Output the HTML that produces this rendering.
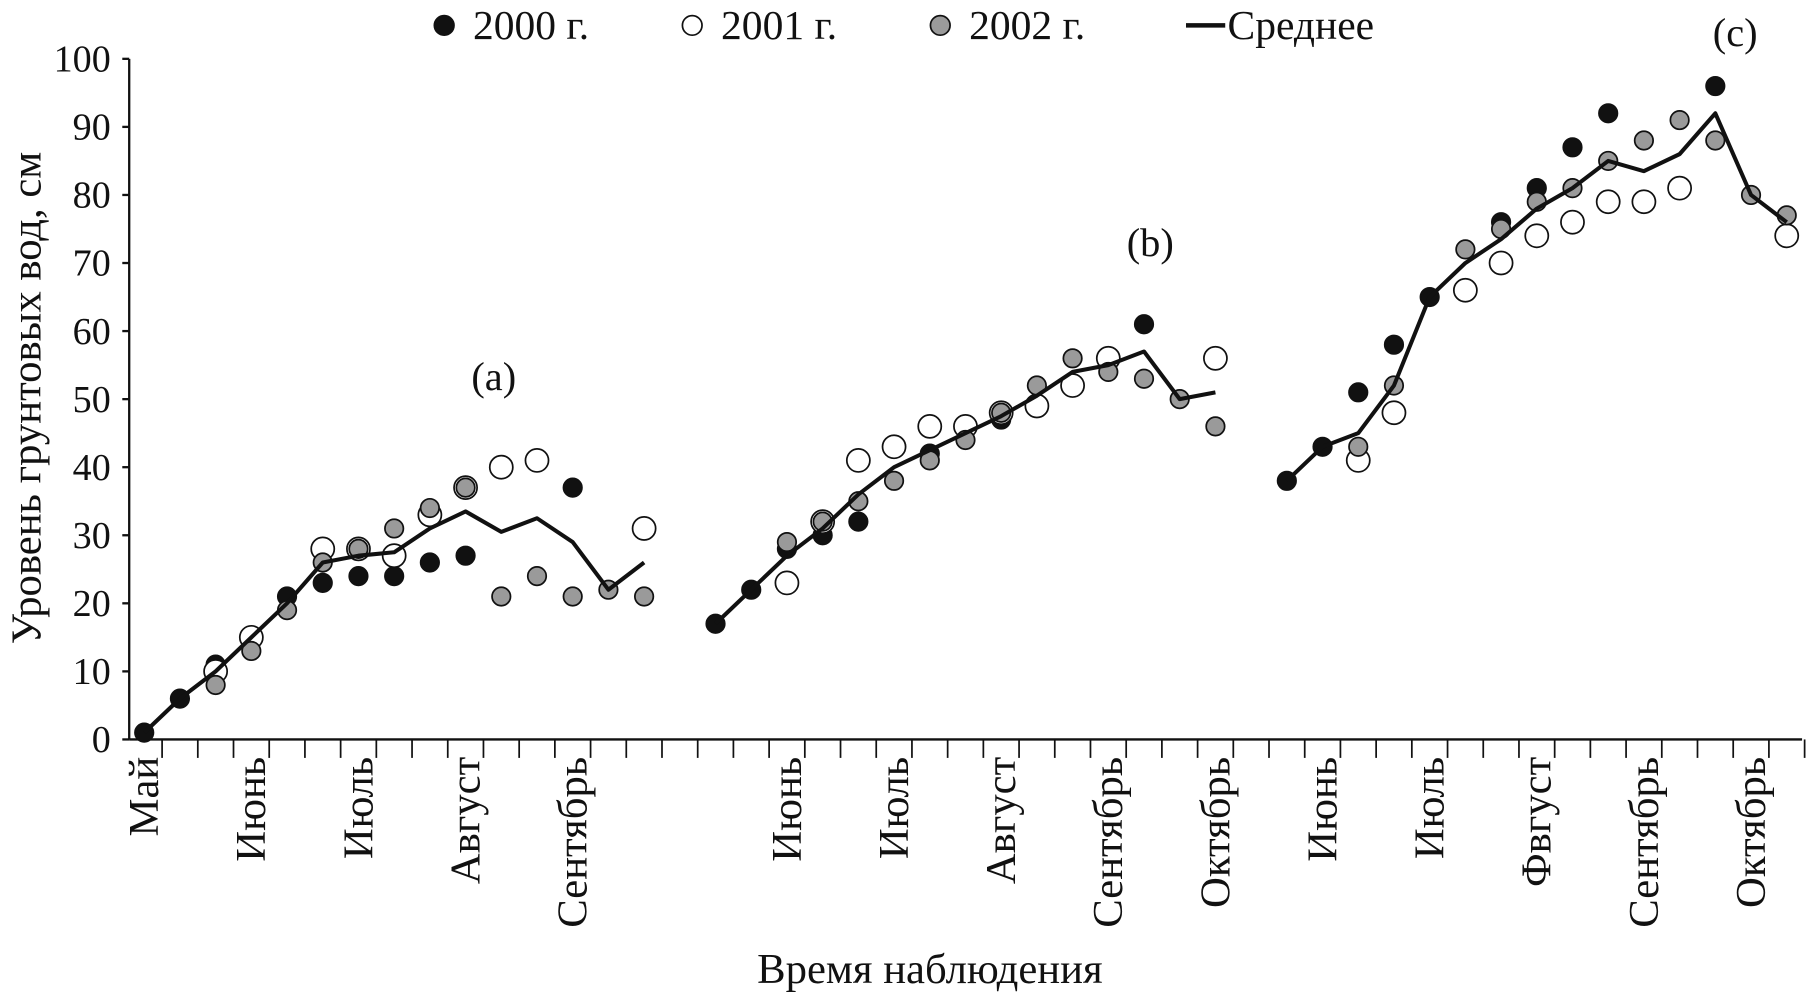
<!DOCTYPE html>
<html><head><meta charset="utf-8"><style>html,body{margin:0;padding:0;background:#fff}svg{display:block}text{font-family:"Liberation Serif",serif;fill:#111}</style></head>
<body>
<svg id="chart" width="1809" height="999" viewBox="0 0 1568 866" preserveAspectRatio="none" xmlns="http://www.w3.org/2000/svg"></svg>
<script>
const yTicks=[0,10,20,30,40,50,60,70,80,90,100];
const monthLabels=["Май","Июнь","Июль","Август","Сентябрь","Июнь","Июль","Август","Сентябрь","Октябрь","Июнь","Июль","Фвгуст","Сентябрь","Октябрь"];
const monthIdx=[0,3,6,9,12,18,21,24,27,30,33,36,39,42,45];
const N=null;
const s2000=[1,6,11,N,21,23,24,24,26,27,N,N,37,N,N, N, 17,22,28,30,32,N,42,N,47,N,N,N,61,N,N, N, 38,43,51,58,65,N,76,81,87,92,N,N,96,N,N];
const s2001=[N,N,10,15,N,28,28,27,33,37,40,41,N,N,31, N, N,N,23,32,41,43,46,46,48,49,52,56,N,N,56, N, N,N,41,48,N,66,70,74,76,79,79,81,N,N,74];
const s2002=[N,N,8,13,19,26,28,31,34,37,21,24,21,22,21, N, N,N,29,32,35,38,41,44,48,52,56,54,53,50,46, N, N,N,43,52,N,72,75,79,81,85,88,91,88,80,77];
const sMean=[1,6,10,15,20,26,27,27.5,31,33.5,30.5,32.5,29,22,26, N, 17,22,27,31,36,40,42.5,45,47.5,50.5,54,55,57,50,51, N, 38,43,45,52,65,70,73.5,78,81,85,83.5,86,92,80,76];
const panels=[{t:"(a)",x:428,y:338},{t:"(b)",x:997,y:222},{t:"(c)",x:1504,y:40}];

const svg=document.getElementById('chart');
const NS="http://www.w3.org/2000/svg";
const X=i=>125+i*30.95, Y=v=>641-v*5.9;
function mk(tag,attrs,parent){const e=document.createElementNS(NS,tag);for(const k in attrs)e.setAttribute(k,attrs[k]);(parent||svg).appendChild(e);return e;}

let e=mk('line',{x1:112,y1:51,x2:112,y2:641,stroke:'#111','stroke-width':2});


e=mk('line',{x1:112,y1:641,x2:1562,y2:641,stroke:'#111','stroke-width':2});


yTicks.forEach(v=>{
  mk('line',{x1:106,y1:Y(v),x2:112,y2:Y(v),stroke:'#111','stroke-width':2});
  const t=mk('text',{x:96,y:Y(v)+11,'text-anchor':'end','font-size':33});t.textContent=v;
  
  
});
for(let k=0;k<47;k++){mk('line',{x1:X(k)+15.5,y1:641,x2:X(k)+15.5,y2:657,stroke:'#111','stroke-width':1.5});}
monthLabels.forEach((m,j)=>{
  const x=X(monthIdx[j])+12;
  const t=mk('text',{x:0,y:0,'text-anchor':'end','font-size':37,transform:`translate(${x},656) rotate(-90)`});t.textContent=m;
  
  
});
e=mk('text',{x:806,y:852,'text-anchor':'middle','font-size':37});e.textContent="Время наблюдения";


e=mk('text',{x:0,y:0,'text-anchor':'middle','font-size':37,transform:'translate(35,345) rotate(-90)'});e.textContent="Уровень грунтовых вод, см";


panels.forEach(p=>{const t=mk('text',{x:p.x,y:p.y,'text-anchor':'middle','font-size':35});t.textContent=p.t;
  
  });

function dots(arr,fill,r,name){arr.forEach((v,i)=>{if(v===null)return;
  const c=mk('circle',{cx:X(i),cy:Y(v),r:r,fill:fill,stroke:'#111','stroke-width':1.5});
  
  });}
dots(s2000,'#111',8,'point-2000');
dots(s2001,'#fff',10,'point-2001');
dots(s2002,'#9a9a9a',8,'point-2002');
let d='',pen=false;
sMean.forEach((v,i)=>{if(v===null){pen=false;return;}d+=(pen?'L':'M')+X(i)+' '+Y(v)+' ';pen=true;});
e=mk('path',{d:d,fill:'none',stroke:'#111','stroke-width':3.5,'stroke-linejoin':'round'});



const lg=[{x:385,f:'#111',t:'2000 г.'},{x:600,f:'#fff',t:'2001 г.'},{x:815,f:'#9a9a9a',t:'2002 г.'}];
lg.forEach(l=>{const c=mk('circle',{cx:l.x,cy:22,r:8.5,fill:l.f,stroke:'#111','stroke-width':1.5});
  
  
  const t=mk('text',{x:l.x+25,y:34,'font-size':36});t.textContent=l.t;
  
  });
e=mk('line',{x1:1028,y1:22,x2:1062,y2:22,stroke:'#111','stroke-width':4});


e=mk('text',{x:1064,y:34,'font-size':36});e.textContent="Среднее";


</script>
</body></html>
